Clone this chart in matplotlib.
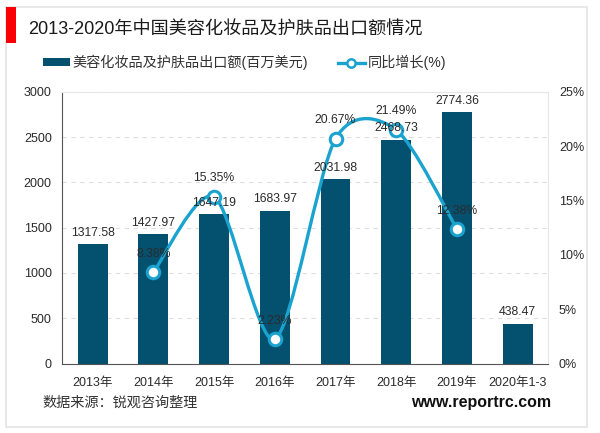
"""2013-2020 China cosmetics and skincare export chart."""

import matplotlib
matplotlib.use("Agg")
import matplotlib.pyplot as plt
import numpy as np
from matplotlib.lines import Line2D
from matplotlib.patches import Patch, PathPatch, Rectangle
from matplotlib.path import Path

plt.rcParams["font.family"] = ["Liberation Sans", "Noto Sans CJK SC"]

years = ["2013年", "2014年", "2015年", "2016年", "2017年", "2018年", "2019年", "2020年1-3"]
exports = [1317.58, 1427.97, 1647.19, 1683.97, 2031.98, 2468.73, 2774.36, 438.47]
growth_idx = [1, 2, 3, 4, 5, 6]
growth = [8.38, 15.35, 2.23, 20.67, 21.49, 12.38]

BAR = "#03506F"
LINE = "#1BA3CF"
TEXT = "#2B2B2B"
W, H = 600, 433


def smooth_path(xs, ys, k=0.28):
    # office style smoothed line, bezier handles from the neighbouring points
    pts = np.column_stack([xs, ys])
    verts = [pts[0]]
    codes = [Path.MOVETO]
    n = len(pts)
    for i in range(n - 1):
        prev = pts[max(i - 1, 0)]
        nxt = pts[min(i + 2, n - 1)]
        verts += [pts[i] + (pts[i + 1] - prev) * k / 2,
                  pts[i + 1] - (nxt - pts[i]) * k / 2,
                  pts[i + 1]]
        codes += [Path.CURVE4] * 3
    return Path(verts, codes)


fig = plt.figure(figsize=(W / 100, H / 100), dpi=100, facecolor="white")
ax = fig.add_axes([62.3 / W, 1 - 363.5 / H, 485.7 / W, 271.8 / H])

# outer card and red title marker
fig.add_artist(Rectangle((6 / W, 1 - 427 / H), 581 / W, 420 / H, transform=fig.transFigure,
                         facecolor="white", edgecolor="#E4E4E4", linewidth=1.2))
fig.add_artist(Rectangle((5.7 / W, 1 - 43.3 / H), 10 / W, 36.6 / H, transform=fig.transFigure,
                         facecolor="#FA0006", edgecolor="none"))
ax.set_zorder(2)
ax.patch.set_alpha(0)

x = np.arange(len(years))
ax.bar(x, exports, width=0.49, color=BAR, zorder=2)

ax.set_xlim(-0.5, len(years) - 0.5)
ax.set_ylim(0, 3000)
ax.set_yticks(range(0, 3001, 500))
ax.set_xticks(x, years)
ax.tick_params(axis="both", length=0, labelsize=9, labelcolor=TEXT)
ax.tick_params(axis="x", pad=10)
ax.tick_params(axis="y", pad=7.6)
ax.grid(axis="y", color="#DDDDDD", linestyle=(0, (4, 4)), linewidth=0.8, zorder=0)
ax.set_axisbelow(True)
ax.spines["top"].set_color("#E6E6E6")
ax.spines["right"].set_color("#E6E6E6")
ax.spines["left"].set_color("#555555")
ax.spines["bottom"].set_color("#555555")

ax2 = ax.twinx()
ax2.set_ylim(0, 25)
ax2.set_yticks(range(0, 26, 5), [f"{v}%" for v in range(0, 26, 5)])
ax2.tick_params(axis="y", length=0, labelsize=9, labelcolor=TEXT, pad=7.9)
for spine in ax2.spines.values():
    spine.set_visible(False)

gx = x[growth_idx]
ax2.add_patch(PathPatch(smooth_path(gx, growth), facecolor="none", edgecolor=LINE, linewidth=2.4, zorder=3))
ax2.plot(gx, growth, linestyle="none", marker="o", markersize=9, markerfacecolor="white",
         markeredgecolor=LINE, markeredgewidth=2.2, zorder=4)

# all value labels sit on top of the line, so they go on the upper axes
for xi, val in zip(x, exports):
    ax2.text(xi, val + 60, f"{val:.2f}", transform=ax.transData, ha="center", va="bottom",
             fontsize=8.8, color=TEXT, zorder=6)
for xi, val in zip(gx, growth):
    ax2.text(xi, val + 1.14, f"{val:.2f}%", ha="center", va="bottom", fontsize=8.8, color=TEXT, zorder=6)

fig.text(28.5 / W, 1 - 29 / H, "2013-2020年中国美容化妆品及护肤品出口额情况", fontsize=13.05,
         color="#1A1A1A", ha="left", va="center")

handles = [Patch(facecolor=BAR, edgecolor="none"),
           Line2D([], [], color=LINE, linewidth=2.4, marker="o", markersize=6,
                  markerfacecolor="white", markeredgecolor=LINE, markeredgewidth=1.8)]
fig.legend(handles, ["美容化妆品及护肤品出口额(百万美元)", "同比增长(%)"], loc="center left",
           bbox_to_anchor=(42.7 / W, 1 - 62.5 / H), ncol=2, frameon=False, fontsize=10.2,
           borderpad=0, borderaxespad=0, handlelength=1.9, handleheight=0.55, handletextpad=0.2,
           columnspacing=2.1, labelcolor="#333333")

fig.text(42.7 / W, 1 - 403 / H, "数据来源：锐观咨询整理", fontsize=10.2, color="#333333", ha="left", va="center")
fig.text(550.7 / W, 1 - 403 / H, "www.reportrc.com", fontsize=11.5, fontweight="bold", color="#111111",
         ha="right", va="center")

fig.savefig("out.png", dpi=100)
